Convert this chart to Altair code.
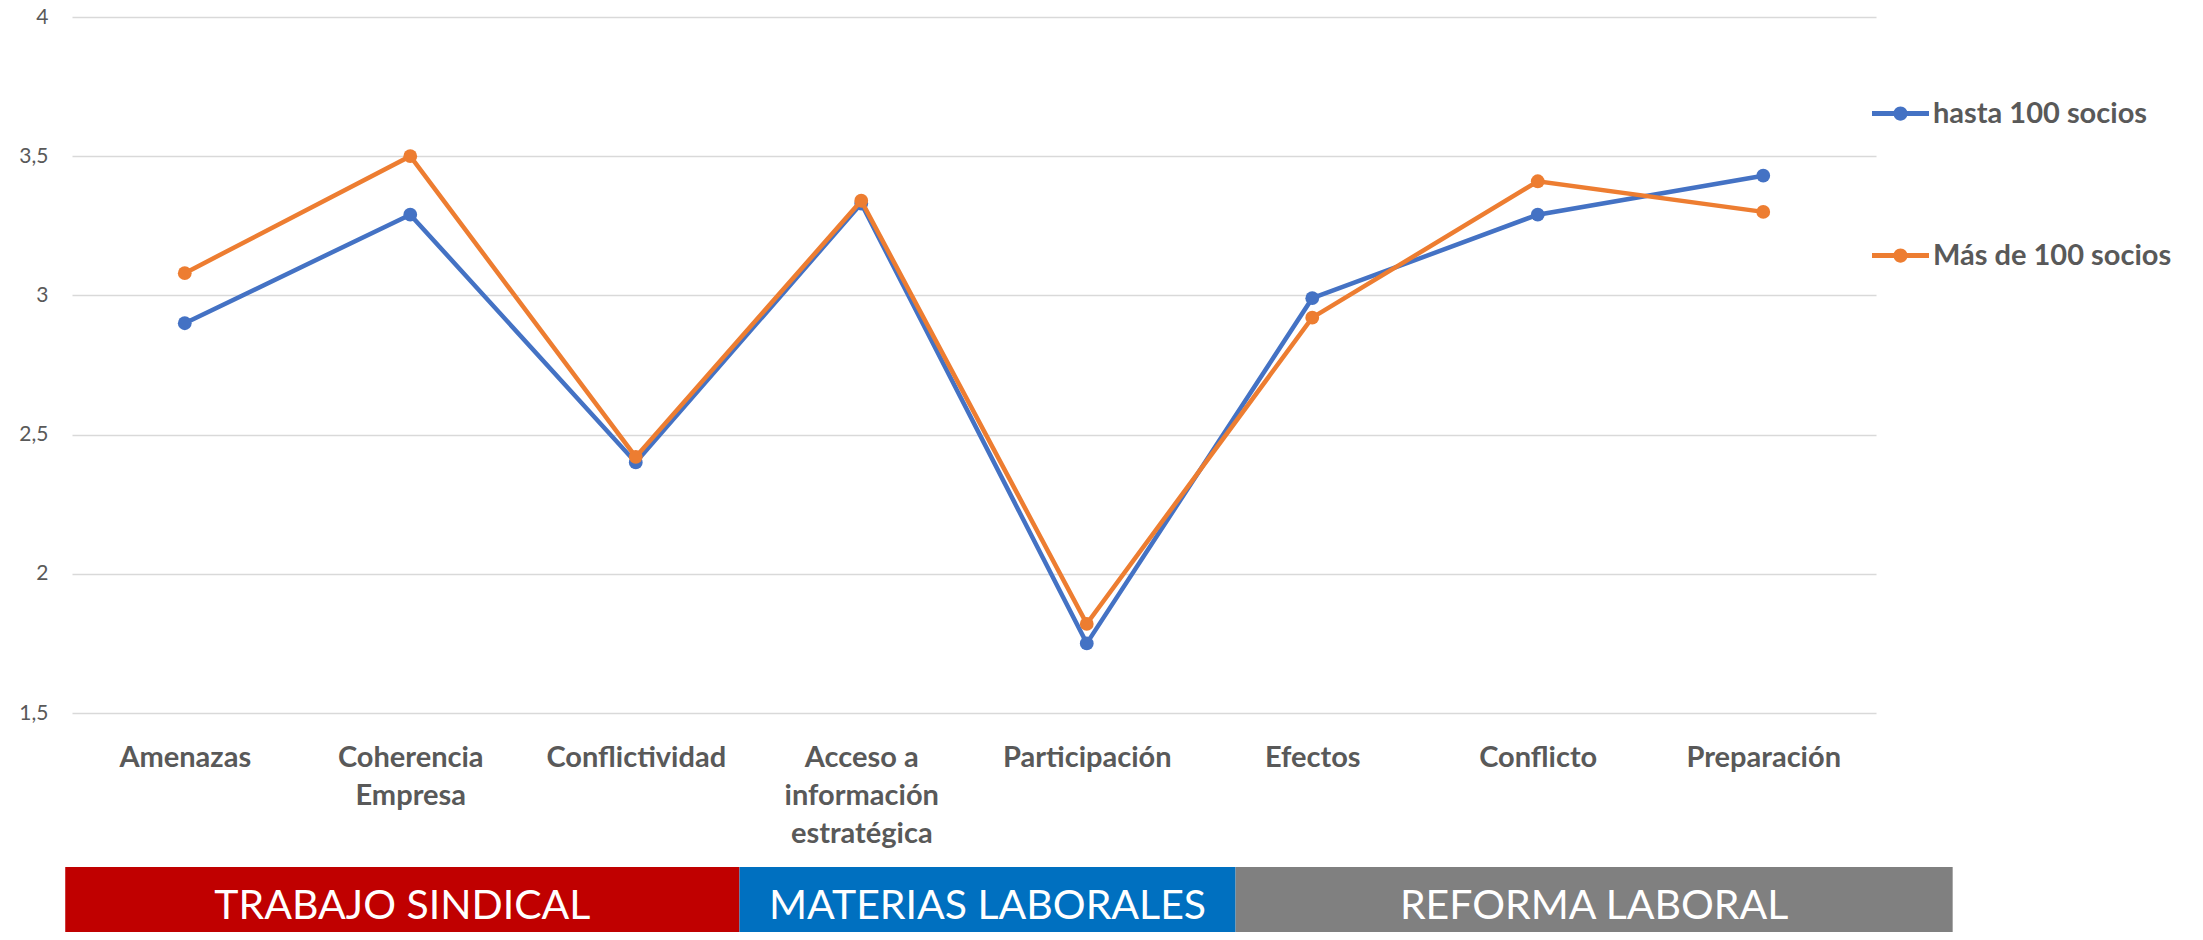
import json
import altair as alt
import pandas as pd

# ---- data ----
categories = ["Amenazas", "Coherencia Empresa", "Conflictividad",
              "Acceso a información estratégica", "Participación",
              "Efectos", "Conflicto", "Preparación"]
label_lines = [["Amenazas"], ["Coherencia", "Empresa"], ["Conflictividad"],
               ["Acceso a", "información", "estratégica"], ["Participación"],
               ["Efectos"], ["Conflicto"], ["Preparación"]]
series_names = ["hasta 100 socios", "Más de 100 socios"]
hasta_100 = [2.90, 3.29, 2.40, 3.33, 1.75, 2.99, 3.29, 3.43]
mas_100 = [3.08, 3.50, 2.42, 3.34, 1.82, 2.92, 3.41, 3.30]
series_colors = ["#4472C4", "#ED7D31"]
y_ticks = [1.5, 2, 2.5, 3, 3.5, 4]

group_names = ["TRABAJO SINDICAL", "MATERIAS LABORALES", "REFORMA LABORAL"]
group_start = [-0.03, 2.96, 5.16]
group_end = [2.96, 5.16, 8.34]
group_colors = ["#C00000", "#0070C0", "#808080"]

FONT = "Lato"
TEXT_GRAY = "#595959"

rows = []
for name, vals in zip(series_names, [hasta_100, mas_100]):
    for c, v in zip(categories, vals):
        rows.append({"cat": c, "series": name, "value": v})
df = pd.DataFrame(rows)

groups = pd.DataFrame({"name": group_names, "start": group_start,
                       "end": group_end, "color": group_colors})

# multi-line x labels
parts = []
for c, lines in zip(categories, label_lines):
    if len(lines) > 1:
        parts.append(f"datum.value == '{c}' ? {json.dumps(lines, ensure_ascii=False)}")
label_expr = " : ".join(parts + ["datum.value"])

x_enc = alt.X("cat:N", sort=categories, scale=alt.Scale(domain=categories),
              axis=alt.Axis(title=None, labelExpr=label_expr, labelAngle=0,
                            labelFont=FONT, labelFontSize=29, labelFontWeight="bold",
                            labelColor=TEXT_GRAY, labelLineHeight=38,
                            labelPadding=30, ticks=False, tickSize=0,
                            domain=False, grid=False, labelLimit=400))
y_enc = alt.Y("value:Q", scale=alt.Scale(domain=[1.5, 4], nice=False, zero=False),
              axis=alt.Axis(title=None, values=y_ticks,
                            labelExpr="replace(format(datum.value, '~g'), '.', ',')",
                            labelFont=FONT, labelFontSize=21, labelColor=TEXT_GRAY,
                            labelPadding=24, ticks=False, tickSize=0, domain=False,
                            grid=True, gridColor="#D9D9D9", gridWidth=1.5))

legend_symbol = ("M-1,-0.085L1,-0.085L1,0.085L-1,0.085Z "
                 "M-0.25,0A0.25,0.25 0 1,1 0.25,0A0.25,0.25 0 1,1 -0.25,0Z")
legend_def = alt.Legend(title=None, orient="none", legendX=1800, legendY=68,
                        symbolType=legend_symbol, symbolSize=3249,
                        symbolStrokeWidth=0, symbolOpacity=1,
                        labelFont=FONT, labelFontSize=29,
                        labelFontWeight="bold", labelColor=TEXT_GRAY,
                        labelOffset=4, labelLimit=400, rowPadding=98,
                        padding=0)

color_scale = alt.Scale(domain=series_names, range=series_colors)

series_layers = []
for name, col in zip(series_names, series_colors):
    base = alt.Chart(df).transform_filter(alt.datum.series == name)
    series_layers.append(base.mark_line(strokeWidth=4.5, color=col).encode(x=x_enc, y=y_enc))
    series_layers.append(base.mark_point(filled=True, size=190, opacity=1).encode(
        x=x_enc, y=y_enc,
        color=alt.Color("series:N", scale=color_scale, legend=legend_def)))
main = alt.layer(*series_layers)

gx = alt.Scale(domain=[0, 8], nice=False, zero=False)
bands = alt.Chart(groups).mark_rect().encode(
    x=alt.X("start:Q", scale=gx, axis=None),
    x2="end:Q",
    y=alt.value(850), y2=alt.value(915),
    fill=alt.Fill("color:N", scale=None),
)
band_text = alt.Chart(groups).transform_calculate(
    mid="(datum.start + datum.end) / 2"
).mark_text(font=FONT, fontSize=41, color="white", align="center",
            baseline="middle").encode(
    x=alt.X("mid:Q", scale=gx, axis=None),
    y=alt.value(890),
    text="name:N",
)
deco = alt.layer(bands, band_text)

chart = alt.layer(main, deco).resolve_scale(
    x="independent"
).properties(
    width=1804, height=696,
    autosize=alt.AutoSizeParams(type="none"),
    padding={"left": 64, "top": 9, "right": 319, "bottom": 219},
    background="white",
).configure_view(stroke=None)

chart.save("out.html", embed_options={"renderer": "svg", "actions": False})
